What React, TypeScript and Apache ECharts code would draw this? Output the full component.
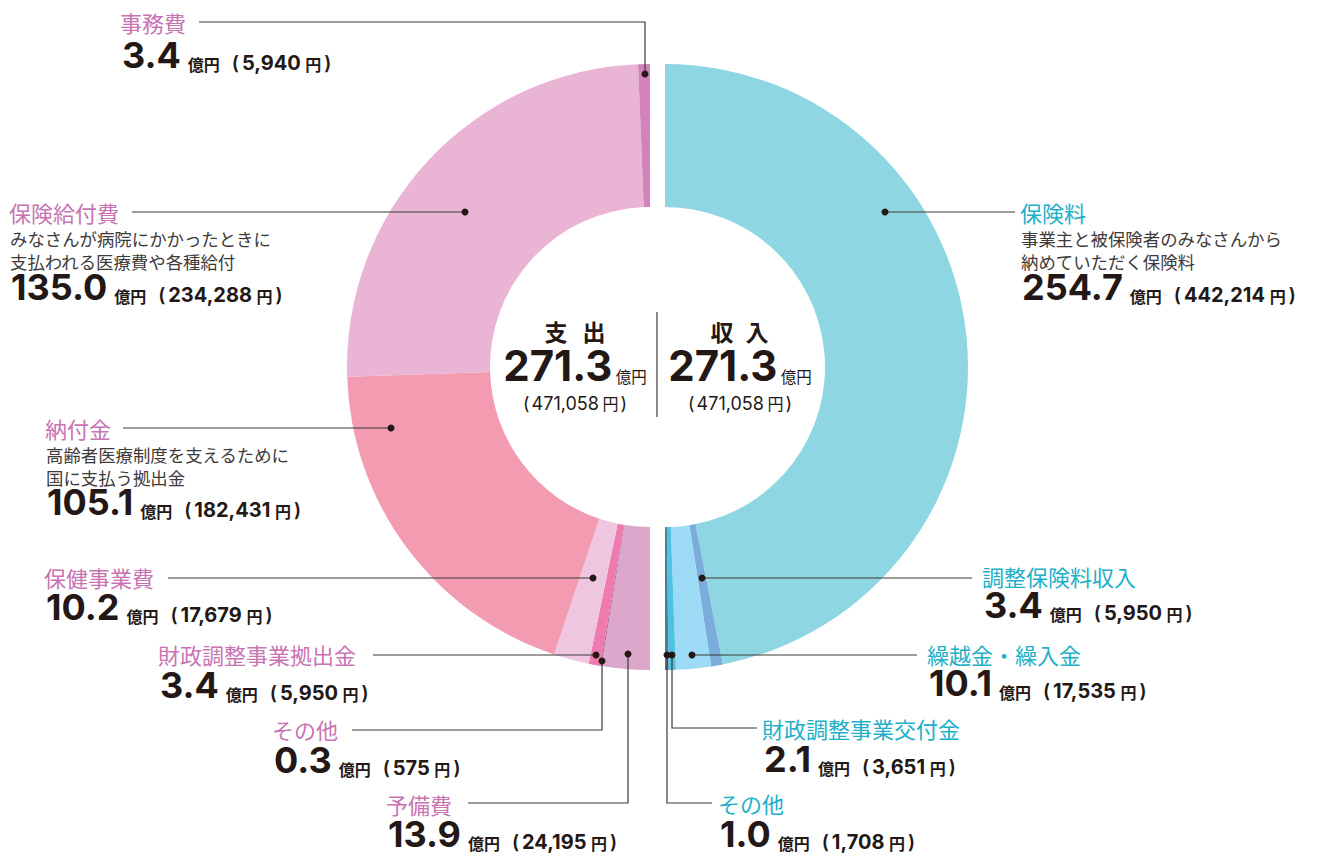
import React, { useEffect, useRef } from 'react';
import * as echarts from 'echarts';

// ---------- data ----------
const incomeNames = ['保険料', '調整保険料収入', '繰越金・繰入金', '財政調整事業交付金', 'その他'];
const incomeValues = [254.7, 3.4, 10.1, 2.1, 1.0];
const incomeYen = ['442,214', '5,950', '17,535', '3,651', '1,708'];
const incomeDesc: string[][] = [['事業主と被保険者のみなさんから', '納めていただく保険料'], [], [], [], []];

// expense slices listed clockwise from the bottom
const expenseNames = ['予備費', 'その他', '財政調整事業拠出金', '保健事業費', '納付金', '保険給付費', '事務費'];
const expenseValues = [13.9, 0.3, 3.4, 10.2, 105.1, 135.0, 3.4];
const expenseYen = ['24,195', '575', '5,950', '17,679', '182,431', '234,288', '5,940'];
const expenseDesc: string[][] = [
  [], [], [], [],
  ['高齢者医療制度を支えるために', '国に支払う拠出金'],
  ['みなさんが病院にかかったときに', '支払われる医療費や各種給付'],
  [],
];

const totalIncome = '271.3';
const totalExpense = '271.3';
const totalYen = '471,058';

// ---------- styles / layout ----------
const incomeColors = ['#8fd6e3', '#7aaddc', '#9ddaf5', '#4cc4de', '#4f7b9c'];
const expenseColors = ['#dba8cc', '#a85a92', '#ee7aae', '#eec6df', '#f39cb1', '#eab4d4', '#d283bc'];

const CY = 367;
const R_IN = 160;
const R_OUT = 303;
const LEFT_CX = 650;
const RIGHT_CX = 665;

type Lay = { x: number; ny: number; dy?: number[]; vy: number; line: number[][] };

const expenseLayout: Lay[] = [
  { x: 386, ny: 804, vy: 839, line: [[468, 803], [628, 803], [628, 654]] },
  { x: 272, ny: 729, vy: 765, line: [[352, 730], [602, 730], [602, 661]] },
  { x: 158, ny: 654, vy: 690, line: [[373, 655], [596, 655]] },
  { x: 44, ny: 577, vy: 612, line: [[168, 578], [593, 578]] },
  { x: 45, ny: 428, dy: [454, 477], vy: 507, line: [[123, 428], [391, 428]] },
  { x: 9, ny: 212, dy: [238, 261], vy: 292, line: [[132, 212], [465, 212]] },
  { x: 120, ny: 22, vy: 60, line: [[199, 22], [645, 22], [645, 74]] },
];
const incomeLayout: Lay[] = [
  { x: 1020, ny: 212, dy: [238, 261], vy: 292, line: [[1015, 212], [885, 212]] },
  { x: 982, ny: 576, vy: 610, line: [[972, 578], [702, 578]] },
  { x: 927, ny: 654, vy: 688, line: [[917, 655], [692, 655]] },
  { x: 762, ny: 728, vy: 764, line: [[757, 728], [672, 728], [672, 655]] },
  { x: 718, ny: 803, vy: 839, line: [[712, 803], [667, 803], [667, 655]] },
];

const JP = '"Noto Sans CJK JP", sans-serif';
const NUM = 'Inter, "Noto Sans", sans-serif';
const INK = '#231815';
const PINK = '#c874b2';
const TEAL = '#22b0c8';

function labelElements(
  names: string[], values: number[], yen: string[], desc: string[][], lay: Lay[], color: string
) {
  const els: any[] = [];
  names.forEach((name, i) => {
    const L = lay[i];
    els.push({
      type: 'polyline', z: 100, silent: true,
      shape: { points: L.line },
      style: { stroke: '#3a3a3a', lineWidth: 1.2, fill: null },
    });
    const end = L.line[L.line.length - 1];
    els.push({
      type: 'circle', z: 101, silent: true,
      shape: { cx: end[0], cy: end[1], r: 3.5 },
      style: { fill: INK },
    });
    els.push({
      type: 'text', z: 100, x: L.x, y: L.ny, silent: true,
      style: {
        text: name, fill: color, fontSize: 22, fontFamily: JP,
        align: 'left', verticalAlign: 'middle',
      },
    });
    (L.dy || []).forEach((yy, k) => {
      els.push({
        type: 'text', z: 100, x: L.x + 1, y: yy, silent: true,
        style: {
          text: desc[i][k], fill: '#3e3a39', fontSize: 17.4, fontFamily: JP,
          align: 'left', verticalAlign: 'middle',
        },
      });
    });
    els.push({
      type: 'text', z: 100, x: L.x + 2, y: L.vy + 13, silent: true,
      style: {
        text: `{n|${values[i].toFixed(1)}}{u|億円}{po|(}{d|${yen[i]}}{u| 円}{pc|)}`,
        align: 'left', verticalAlign: 'bottom',
        rich: {
          n: {
            fontSize: 36, fontFamily: NUM, fontWeight: 700, fill: INK,
            verticalAlign: 'bottom', lineHeight: 27, padding: [0, 7, 0, 0],
          },
          u: {
            fontSize: 16, fontFamily: JP, fontWeight: 700, fill: INK,
            verticalAlign: 'bottom', lineHeight: 15, padding: [0, 0, 1, 0],
          },
          po: {
            fontSize: 19, fontFamily: NUM, fontWeight: 600, fill: INK,
            verticalAlign: 'bottom', lineHeight: 18, padding: [0, 3, 0, 12],
          },
          pc: {
            fontSize: 19, fontFamily: NUM, fontWeight: 600, fill: INK,
            verticalAlign: 'bottom', lineHeight: 18, padding: [0, 0, 0, 3],
          },
          d: {
            fontSize: 20, fontFamily: NUM, fontWeight: 700, fill: INK,
            verticalAlign: 'bottom', lineHeight: 18, padding: [0, 1, 0, 0],
          },
        },
      },
    });
  });
  return els;
}

function centerElements() {
  const els: any[] = [];
  const blocks = [
    { cx: 575, chars: ['支', '出'], cxs: [556, 594], total: totalExpense },
    { cx: 740, chars: ['収', '入'], cxs: [722, 757], total: totalIncome },
  ];
  blocks.forEach((b) => {
    b.chars.forEach((c, k) => {
      els.push({
        type: 'text', z: 100, x: b.cxs[k], y: 331, silent: true,
        style: {
          text: c, fill: INK, fontSize: 23, fontWeight: 700, fontFamily: JP,
          align: 'center', verticalAlign: 'middle',
        },
      });
    });
    els.push({
      type: 'text', z: 100, x: b.cx, y: 386, silent: true,
      style: {
        text: `{n|${b.total}}{u| 億円}`,
        align: 'center', verticalAlign: 'bottom',
        rich: {
          n: { fontSize: 42, fontFamily: NUM, fontWeight: 700, fill: INK, verticalAlign: 'bottom', lineHeight: 34 },
          u: { fontSize: 15.5, fontFamily: JP, fill: INK, verticalAlign: 'bottom', lineHeight: 15, padding: [0, 0, 2, 0] },
        },
      },
    });
    els.push({
      type: 'text', z: 100, x: b.cx, y: 403, silent: true,
      style: {
        text: `{p|(}{d|${totalYen}}{u| 円}{p|)}`,
        align: 'center', verticalAlign: 'middle',
        rich: {
          p: { fontSize: 18, fontFamily: NUM, fill: INK, verticalAlign: 'bottom', lineHeight: 18, padding: [0, 2, 0, 2] },
          d: { fontSize: 18, fontFamily: NUM, fill: INK, verticalAlign: 'bottom', lineHeight: 18 },
          u: { fontSize: 16, fontFamily: JP, fill: INK, verticalAlign: 'bottom', lineHeight: 16, padding: [0, 0, 1, 0] },
        },
      },
    });
  });
  els.push({
    type: 'line', z: 100, silent: true,
    shape: { x1: 657, y1: 312, x2: 657, y2: 417 },
    style: { stroke: '#3a3a3a', lineWidth: 1.2 },
  });
  return els;
}

export default function App() {
  const ref = useRef<HTMLDivElement>(null);
  useEffect(() => {
    document.body.style.margin = '0';
    const chart = echarts.init(ref.current!, null, { renderer: 'svg' });
    chart.setOption({
      animation: false,
      backgroundColor: '#ffffff',
      series: [
        {
          type: 'pie', name: '収入', silent: true,
          center: [RIGHT_CX, CY], radius: [R_IN, R_OUT],
          startAngle: 90, endAngle: -90, clockwise: true,
          avoidLabelOverlap: false, minAngle: 0,
          label: { show: false }, labelLine: { show: false },
          emphasis: { disabled: true },
          itemStyle: { borderWidth: 0 },
          data: incomeNames.map((n, i) => ({
            name: n, value: incomeValues[i], itemStyle: { color: incomeColors[i] },
          })),
        },
        {
          type: 'pie', name: '支出', silent: true,
          center: [LEFT_CX, CY], radius: [R_IN, R_OUT],
          startAngle: 270, endAngle: 90, clockwise: true,
          avoidLabelOverlap: false, minAngle: 0,
          label: { show: false }, labelLine: { show: false },
          emphasis: { disabled: true },
          itemStyle: { borderWidth: 0 },
          data: expenseNames.map((n, i) => ({
            name: n, value: expenseValues[i], itemStyle: { color: expenseColors[i] },
          })),
        },
      ],
      graphic: [
        ...labelElements(expenseNames, expenseValues, expenseYen, expenseDesc, expenseLayout, PINK),
        ...labelElements(incomeNames, incomeValues, incomeYen, incomeDesc, incomeLayout, TEAL),
        ...centerElements(),
      ],
    });
    return () => chart.dispose();
  }, []);
  return <div ref={ref} style={{ position: 'fixed', left: 0, top: 0, width: 1322, height: 859 }} />;
}
